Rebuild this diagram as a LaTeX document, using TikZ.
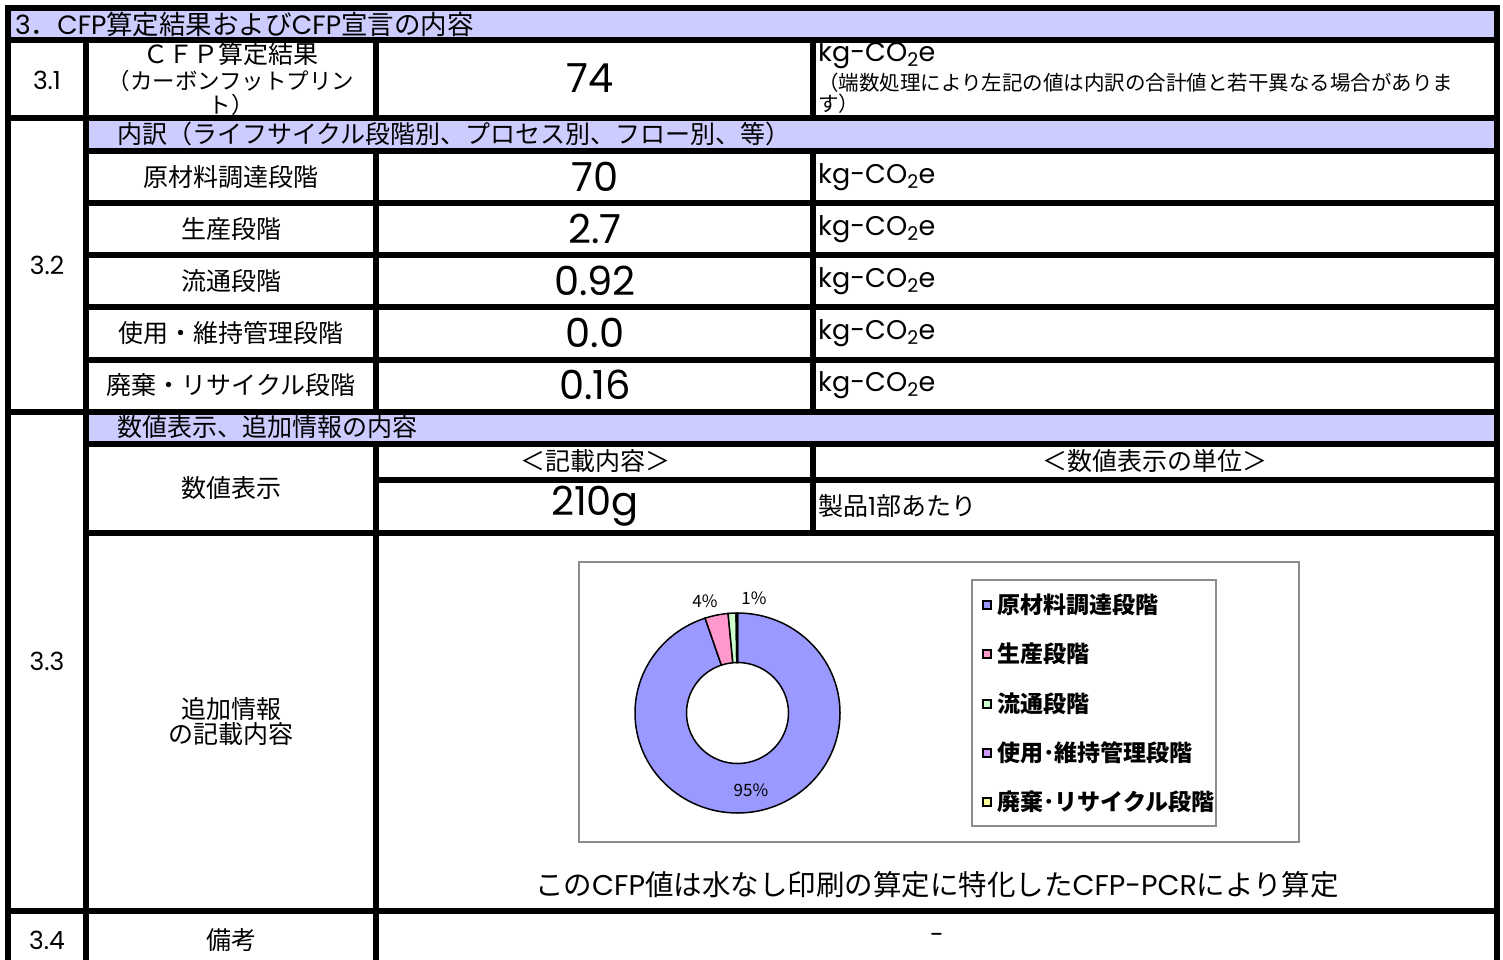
\documentclass[tikz,border=0pt]{standalone}
\usepackage{fontspec}
\setmainfont{Noto Sans CJK JP}
\newfontfamily\latinf{Poppins}
\usetikzlibrary{positioning}
\definecolor{headblue}{HTML}{CCCCFF}
\definecolor{rawblue}{HTML}{9999FF}
\definecolor{prodpink}{HTML}{FF99CC}
\definecolor{distgreen}{HTML}{CCFFCC}
\definecolor{usepurple}{HTML}{CC99FF}
\definecolor{wasteyellow}{HTML}{FFFF99}
\definecolor{framegray}{gray}{0.55}
\def\fsz#1{\fontsize{#1}{#1}\selectfont}
\def\kgco{{\latinf kg-CO\textsubscript{2}e}}
\def\cfp{{\latinf CFP}}

\begin{document}
\begin{tikzpicture}[x=1pt,y=-1pt,
  grid/.style={line width=5.5pt,line cap=rect},
  head/.style={fill=headblue},
  outerring/.style={x radius=102.5,y radius=100},
  innerring/.style={x radius=51,y radius=50.5},
  txt/.style={inner sep=0pt,font=\fsz{25}},
  num/.style={inner sep=0pt,font=\fsz{40}\latinf},
  unit/.style={inner sep=0pt,anchor=west,font=\fsz{27}},
  note/.style={inner sep=0pt,anchor=west,font=\fsz{20.5}},
  leg/.style={inner sep=0pt,anchor=west,font=\fsz{23}\bfseries},
  pct/.style={inner sep=0pt,font=\fsz{17}}]
\useasboundingbox (0,0) rectangle (1503,959);
\clip (0,0) rectangle (1503,959);
\fill[white] (0,0) rectangle (1503,959);
% header bands
\fill[head] (8,8) rectangle (1497,40);
\fill[head] (86,118) rectangle (1497,151);
\fill[head] (86,412) rectangle (1497,444);
% table lines
\foreach \y in {8,40,118,412,911} \draw[grid] (8,\y) -- (1497,\y);
\foreach \y in {151,203,255,307,360,444,533} \draw[grid] (86,\y) -- (1497,\y);
\draw[grid] (376,480) -- (1497,480);
\draw[grid] (8,8) -- (8,970);
\draw[grid] (1497,8) -- (1497,970);
\draw[grid] (86,40) -- (86,970);
\draw[grid] (376,40) -- (376,118) (376,151) -- (376,412) (376,444) -- (376,970);
\draw[grid] (813,40) -- (813,118) (813,151) -- (813,412) (813,444) -- (813,533);
% 3.1
\node[txt,anchor=west,font=\fsz{26.5}] (title) at (15,24) {{\latinf 3}．\cfp 算定結果および\cfp 宣言の内容};
\node[txt,font=\fsz{25}\latinf] (n31) at (47,80) {3.1};
\node[txt] (cfp1) at (231,54) {ＣＦＰ算定結果};
\node[txt,font=\fsz{22.5}] (cfp2) at (231,81) {（カーボンフットプリン};
\node[txt,font=\fsz{22.5}] (cfp3) at (231,105) {ト）};
\node[num] (total) at (590,78) {74};
\node[unit] (totunit) at (818,55) {\kgco};
\node[note] (note1) at (818,83) {（端数処理により左記の値は内訳の合計値と若干異なる場合がありま};
\node[note] (note2) at (818,104) {す）};
% 3.2
\node[txt,anchor=west] (brk) at (117,134) {内訳（ライフサイクル段階別、プロセス別、フロー別、等）};
\node[txt,font=\fsz{25}\latinf] (n32) at (47,265) {3.2};
\foreach \y/\lab/\val [count=\i] in {177/原材料調達段階/70, 229/生産段階/2.7, 281/流通段階/0.92, 333/使用・維持管理段階/0.0, 385/廃棄・リサイクル段階/0.16} {
  \node[txt] (stage\i) at (231,\y) {\lab};
  \node[num] (val\i) at (595,\y) {\val};
  \node[unit] (unit\i) at (818,\y) {\kgco};
}
% 3.3
\node[txt,anchor=west] (info) at (117,427) {数値表示、追加情報の内容};
\node[txt,font=\fsz{25}\latinf] (n33) at (47,661) {3.3};
\node[txt] (disp) at (231,488) {数値表示};
\node[txt] (cont) at (595,461) {＜記載内容＞};
\node[txt] (dunit) at (1155,461) {＜数値表示の単位＞};
\node[num] (gram) at (595,506) {210g};
\node[txt,anchor=west] (perone) at (818,506) {製品{\latinf 1}部あたり};
\node[txt,align=center] (extra) at (231,721) {追加情報\\の記載内容};
% chart
\draw[framegray,line width=1.2pt] (579,562) rectangle (1299,842);
\begin{scope}[shift={(737.5,713)},yscale=-1]
\foreach \a/\b/\c in {90/-251.56/rawblue, -251.56/-264.73/prodpink, -264.73/-269.22/distgreen, -269.22/-270/wasteyellow}
  \filldraw[fill=\c,draw=black,line width=1.5pt] (\a:102.5 and 100) arc[start angle=\a,end angle=\b,outerring] -- (\b:51 and 50.5) arc[start angle=\b,end angle=\a,innerring] -- cycle;
\end{scope}
\node[pct] (p4) at (705,601) {4\%};
\node[pct] (p1) at (754,598) {1\%};
\node[pct] (p95) at (751,790) {95\%};
\draw[framegray,line width=1.2pt] (972,580) rectangle (1216,826);
\foreach \y/\t/\c [count=\i] in {605/原材料調達段階/rawblue, 654/生産段階/prodpink, 704/流通段階/distgreen, 753/使用･維持管理段階/usepurple, 802/廃棄･リサイクル段階/wasteyellow} {
  \draw[black,line width=2pt,fill=\c] (983,\y-4) rectangle ++(8,8);
  \node[leg] (leg\i) at (997,\y) {\t};
}
\node[txt,font=\fsz{28.5}] (pcr) at (937,885) {この\cfp 値は水なし印刷の算定に特化した{\latinf CFP-PCR}により算定};
% 3.4
\node[txt,font=\fsz{25}\latinf] (n34) at (47,940) {3.4};
\node[txt] (memo) at (231,940) {備考};
\node[txt,font=\fsz{25}\latinf] (dash) at (937,938) {-};
\end{tikzpicture}
\end{document}
